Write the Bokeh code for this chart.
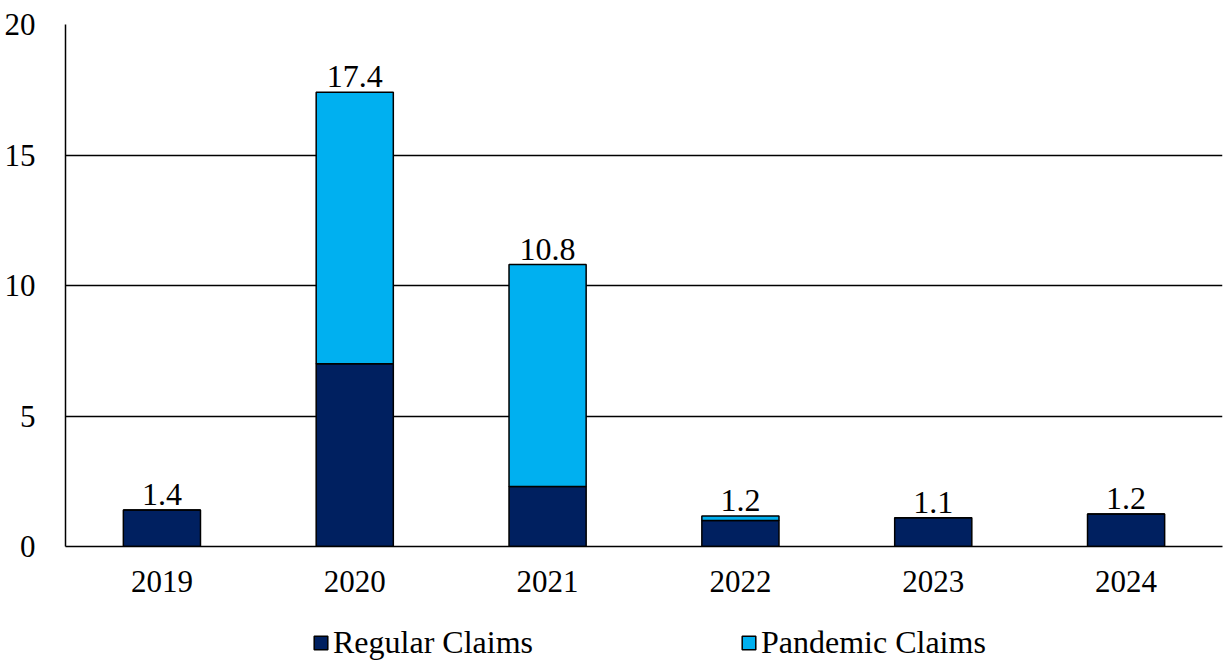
import numpy as np
from bokeh.plotting import figure
from bokeh.layouts import column
from bokeh.models import ColumnDataSource, FactorRange, Range1d, Legend, LegendItem, FixedTicker
from bokeh.core.properties import value
from bokeh.embed import file_html
from bokeh.resources import INLINE

years = ["2019", "2020", "2021", "2022", "2023", "2024"]
regular = [1.4, 7.0, 2.3, 1.0, 1.1, 1.25]
pandemic = [0.0, 10.4, 8.5, 0.17, 0.0, 0.0]
totals = [1.4, 17.4, 10.8, 1.2, 1.1, 1.2]
series_names = ["Regular Claims", "Pandemic Claims"]
y_ticks = [0, 5, 10, 15, 20]

navy = "#002060"
cyan = "#00B0F0"
FONT = "Liberation Serif"
FS = "31px"
FS2 = "32px"

top_total = [r + q for r, q in zip(regular, pandemic)]
label_text = [f"{t:.1f}" for t in totals]

src = ColumnDataSource(dict(x=years, reg=regular, tot=top_total, lt=label_text))

p = figure(width=1225, height=615, x_range=FactorRange(*years, range_padding=0),
           y_range=Range1d(0, 20), output_backend="svg", toolbar_location=None,
           min_border_left=65, min_border_right=3, min_border_top=24, min_border_bottom=69)
p.outline_line_color = None
p.background_fill_color = "white"

r1 = p.vbar(x="x", bottom=0, top="reg", width=0.40, source=src,
            fill_color=navy, line_color="black", line_width=1.5)
r2 = p.vbar(x="x", bottom="reg", top="tot", width=0.40, source=src,
            fill_color=cyan, line_color="black", line_width=1.5)

p.text(x="x", y="tot", text="lt", source=src, text_align="center",
       text_baseline="bottom", y_offset=-5, text_font=value(FONT),
       text_font_size=FS2, text_color="black")

p.xgrid.grid_line_color = None
p.ygrid.grid_line_color = "black"
p.ygrid.grid_line_width = 1.5
p.yaxis.ticker = FixedTicker(ticks=y_ticks)

for ax in (p.xaxis[0], p.yaxis[0]):
    ax.major_tick_line_color = None
    ax.minor_tick_line_color = None
    ax.axis_line_color = "black"
    ax.axis_line_width = 1.5
    ax.major_label_text_font = FONT
    ax.major_label_text_font_size = FS
    ax.major_label_text_color = "black"

p.yaxis.major_label_standoff = 24
p.xaxis.major_label_standoff = 18

# legend strip (frame aligned with the main plot's frame by the column layout)
lg = figure(width=1225, height=46, x_range=Range1d(0, 1), y_range=Range1d(0, 1),
            output_backend="svg", toolbar_location=None,
            x_axis_location=None, y_axis_location=None,
            min_border_left=65, min_border_right=3, min_border_top=0, min_border_bottom=0)
lg.grid.visible = False
lg.outline_line_color = None
nodata = ColumnDataSource(dict(x=np.array([np.nan]), t=np.array([np.nan])))
d1 = lg.vbar(x="x", top="t", width=0.1, source=nodata, fill_color=navy, line_color="black", line_width=1.5)
d2 = lg.vbar(x="x", top="t", width=0.1, source=nodata, fill_color=cyan, line_color="black", line_width=1.5)

legend = Legend(items=[LegendItem(label=series_names[0], renderers=[d1]),
                       LegendItem(label=series_names[1], renderers=[d2])],
                orientation="horizontal", location=(247, 0),
                label_text_font=FONT, label_text_font_size=FS2,
                label_text_color="black", glyph_width=17, glyph_height=17,
                label_standoff=4, spacing=207, padding=0, margin=0,
                border_line_color=None, background_fill_alpha=0)
lg.add_layout(legend, "center")

layout = column(p, lg, spacing=0)
open("out.html", "w").write(file_html(layout, INLINE))
